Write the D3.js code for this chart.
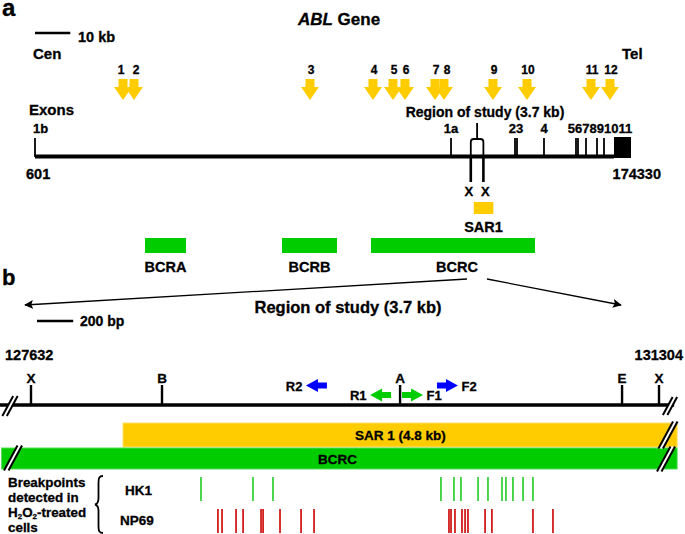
<!DOCTYPE html>
<html><head><meta charset="utf-8">
<script src="https://cdn.jsdelivr.net/npm/d3@7"></script>
<style>
body{margin:0;background:#fff}
svg{display:block;font-family:"Liberation Sans",Arial,Helvetica,sans-serif;font-weight:bold}
svg text{stroke:#000;stroke-width:0.3px}
</style>
</head><body>
<svg id="chart" width="685" height="534"></svg>
<script>
// ---------------- DATA ----------------
// Panel a: ABL gene (bp)
const geneRange = [601, 174330];
const sarNames = ["1","2","3","4","5","6","7","8","9","10","11","12"];
const sarPos = [26253, 29459, 80761, 99125, 104954, 108452, 117197, 119820, 134103, 144014, 162669, 168208];
const exonTickNames = ["1b","1a","2","3","4","5","6","7","8","9"];
const exonTickPos = [601, 121865, 140519, 141102, 148969, 158297, 158880, 161212, 164419, 166459];
const exonBlock = [169374, 174330];            // exons 10-11
const exonLabels = ["1b","1a","23","4","567891011"];
const exonLabelPos = [601, 121865, 140810, 148969, 165300];
const studyRegion = [127632, 131304];          // XbaI sites
const sar1A = [128500, 134200];
const bcrNames = ["BCRA","BCRB","BCRC"];
const bcrStart = [32666, 72599, 98542];
const bcrEnd = [44616, 88631, 146346];

// Panel b: region of study (bp)
const viewB = [127460, 131410];
const siteNames = ["X","B","A","E","X"];
const sitePos = [127632, 128398, 129790, 131088, 131304];
const primerNames = ["R2","R1","F1","F2"];
const primerPos = [129301, 129676, 129863, 130067];
const primerDir = [-1, -1, 1, 1];
const primerSet = ["outer","inner","inner","outer"];
const sar1B = [128170, 132970];
const bcrcB = [98542, 146346];
const hk1 = [128626,128930,129047,130029,130105,130146,130246,130304,130386,130409,130450,130509,130567];
const np69 = [128725,128749,128831,128872,128977,128989,129088,129211,129287,130076,130088,130111,130152,130170,130187,130287,130327,130567,130684];

// ---------------- STYLE ----------------
const YEL = "#FFCC00", GRN = "#00CC00", BLUE = "#0000FF", RED = "#CC0000", TICKG = "#22CC22";
const svg = d3.select("#chart");

// ---------------- PANEL A ----------------
const xa = d3.scaleLinear().domain(geneRange).range([35, 631]);
const A = svg.append("g");

A.append("text").attr("x", 2).attr("y", 16).attr("font-size", 24).text("a");
const title = A.append("text").attr("x", 339).attr("y", 25).attr("text-anchor", "middle").attr("font-size", 17);
title.append("tspan").attr("font-style", "italic").text("ABL");
title.append("tspan").text(" Gene");

// 10 kb scale bar
A.append("line").attr("x1", xa(geneRange[0])).attr("x2", xa(geneRange[0] + 10000) + 1)
  .attr("y1", 33).attr("y2", 33).attr("stroke", "#000").attr("stroke-width", 2.5);
A.append("text").attr("x", 78).attr("y", 42).attr("font-size", 14.5).text("10 kb");
A.append("text").attr("x", 33).attr("y", 59).attr("font-size", 15).text("Cen");
A.append("text").attr("x", 622).attr("y", 59).attr("font-size", 15).text("Tel");

// SAR arrows
const arrowPath = "M-4.5,0 L4.5,0 L4.5,8 L9,8 L0,21 L-9,8 L-4.5,8 Z";
const sg = A.append("g").selectAll("g").data(sarPos).join("g")
  .attr("transform", d => `translate(${xa(d)},79)`);
sg.append("path").attr("d", arrowPath).attr("fill", YEL);
A.append("g").selectAll("text").data(sarNames).join("text")
  .attr("x", (d, i) => xa(sarPos[i]) + (i === 0 ? -2 : i === 1 ? 2 : i === 7 ? 3 : 1))
  .attr("y", 74).attr("text-anchor", "middle").attr("font-size", 12).text(d => d);

A.append("text").attr("x", 29).attr("y", 115).attr("font-size", 15).text("Exons");
A.append("text").attr("x", 485).attr("y", 117).attr("text-anchor", "middle").attr("font-size", 14).text("Region of study (3.7 kb)");

// gene line
A.append("line").attr("x1", xa(geneRange[0])).attr("x2", xa(exonBlock[0]))
  .attr("y1", 156.5).attr("y2", 156.5).attr("stroke", "#000").attr("stroke-width", 4);
A.append("g").selectAll("line").data(exonTickPos).join("line")
  .attr("x1", d => xa(d)).attr("x2", d => xa(d)).attr("y1", 138).attr("y2", 157)
  .attr("stroke", "#000").attr("stroke-width", 1.8);
A.append("rect").attr("x", xa(exonBlock[0])).attr("width", xa(exonBlock[1]) - xa(exonBlock[0]))
  .attr("y", 137).attr("height", 21).attr("fill", "#000");
A.append("g").selectAll("text").data(exonLabels).join("text")
  .attr("x", (d, i) => i === 0 ? xa(exonLabelPos[i]) - 2 : xa(exonLabelPos[i]))
  .attr("text-anchor", (d, i) => i === 0 ? "start" : "middle")
  .attr("y", 133).attr("font-size", 13).text(d => d);

// study bracket
const s0 = xa(studyRegion[0]), s1 = xa(studyRegion[1]), sm = (s0 + s1) / 2;
A.append("path").attr("fill", "none").attr("stroke", "#000").attr("stroke-width", 1.8)
  .attr("d", `M${s0},157 L${s0},142 Q${s0},139 ${s0 + 3},139 L${s1 - 3},139 Q${s1},139 ${s1},142 L${s1},157 M${sm},139 L${sm},123`);
A.append("g").selectAll("line").data(studyRegion).join("line")
  .attr("x1", d => xa(d)).attr("x2", d => xa(d)).attr("y1", 157).attr("y2", 182)
  .attr("stroke", "#000").attr("stroke-width", 2.6);
A.append("g").selectAll("text").data(studyRegion).join("text")
  .attr("x", (d, i) => xa(d) + (i === 0 ? -2 : 2)).attr("y", 196).attr("text-anchor", "middle")
  .attr("font-size", 13).text("X");

A.append("text").attr("x", 26).attr("y", 179).attr("font-size", 14.5).text(String(geneRange[0]));
A.append("text").attr("x", 661).attr("y", 179).attr("text-anchor", "end").attr("font-size", 14.5).text(String(geneRange[1]));

// SAR1 box
A.append("rect").attr("x", xa(sar1A[0])).attr("width", xa(sar1A[1]) - xa(sar1A[0]))
  .attr("y", 202).attr("height", 12).attr("fill", YEL);
A.append("text").attr("x", (xa(sar1A[0]) + xa(sar1A[1])) / 2).attr("y", 232).attr("text-anchor", "middle")
  .attr("font-size", 14.5).text("SAR1");

// BCR boxes
A.append("g").selectAll("rect").data(bcrStart).join("rect")
  .attr("x", d => xa(d)).attr("width", (d, i) => xa(bcrEnd[i]) - xa(d))
  .attr("y", 238).attr("height", 15).attr("fill", GRN);
A.append("g").selectAll("text").data(bcrNames).join("text")
  .attr("x", (d, i) => (xa(bcrStart[i]) + xa(bcrEnd[i])) / 2 + (i === 2 ? 4 : 0)).attr("y", 272)
  .attr("text-anchor", "middle").attr("font-size", 14.5).text(d => d);

// ---------------- PANEL B ----------------
const xb = d3.scaleLinear().domain(studyRegion).range([31, 659]);
const B = svg.append("g");
B.append("text").attr("x", 2).attr("y", 285).attr("font-size", 22).text("b");

const defs = svg.append("defs");
defs.append("marker").attr("id", "ah").attr("viewBox", "0 0 10 10").attr("refX", 9).attr("refY", 5)
  .attr("markerWidth", 9).attr("markerHeight", 9).attr("markerUnits", "userSpaceOnUse").attr("orient", "auto")
  .append("path").attr("d", "M0,0 L10,5 L0,10 L2,5 Z").attr("fill", "#000");
B.append("line").attr("x1", 467).attr("y1", 279).attr("x2", 25).attr("y2", 305)
  .attr("stroke", "#000").attr("stroke-width", 1.3).attr("marker-end", "url(#ah)");
B.append("line").attr("x1", 487).attr("y1", 279).attr("x2", 621).attr("y2", 305)
  .attr("stroke", "#000").attr("stroke-width", 1.3).attr("marker-end", "url(#ah)");

B.append("text").attr("x", 348).attr("y", 313).attr("text-anchor", "middle").attr("font-size", 16.5).text("Region of study (3.7 kb)");
B.append("line").attr("x1", 37).attr("x2", 37 + (xb(studyRegion[0] + 200) - xb(studyRegion[0])) + 2)
  .attr("y1", 321).attr("y2", 321).attr("stroke", "#000").attr("stroke-width", 2.5);
B.append("text").attr("x", 80).attr("y", 326).attr("font-size", 14).text("200 bp");

B.append("text").attr("x", 5).attr("y", 360).attr("font-size", 14.5).text(String(studyRegion[0]));
B.append("text").attr("x", 683).attr("y", 360).attr("text-anchor", "end").attr("font-size", 14.5).text(String(studyRegion[1]));

// main line
B.append("line").attr("x1", xb(viewB[0]) - 2).attr("x2", xb(viewB[1]) - 3).attr("y1", 405).attr("y2", 405)
  .attr("stroke", "#000").attr("stroke-width", 3.5);
B.append("g").selectAll("line").data(sitePos).join("line")
  .attr("x1", d => xb(d)).attr("x2", d => xb(d)).attr("y1", 385).attr("y2", 405)
  .attr("stroke", "#000").attr("stroke-width", 2.4);
B.append("g").selectAll("text").data(siteNames).join("text")
  .attr("x", (d, i) => xb(sitePos[i])).attr("y", 383).attr("text-anchor", "middle")
  .attr("font-size", 13.5).text(d => d);

// primers
const primerY = {outer: 385.5, inner: 395};
const primerCol = {outer: BLUE, inner: GRN};
const pArrow = "M10.5,-3 L1.5,-3 L1.5,-6.5 L-10.5,0 L1.5,6.5 L1.5,3 L10.5,3 Z"; // points left
B.append("g").selectAll("path").data(primerPos).join("path")
  .attr("d", pArrow)
  .attr("transform", (d, i) => `translate(${xb(d)},${primerY[primerSet[i]]}) scale(${-primerDir[i]},1)`)
  .attr("fill", (d, i) => primerCol[primerSet[i]]);
B.append("g").selectAll("text").data(primerNames).join("text")
  .attr("x", (d, i) => xb(primerPos[i]) + primerDir[i] * 14)
  .attr("y", (d, i) => primerY[primerSet[i]] + (primerSet[i] === "outer" ? 5.5 : 4.5))
  .attr("text-anchor", (d, i) => primerDir[i] < 0 ? "end" : "start")
  .attr("font-size", 13).text(d => d);

// bars
const clip = r => [Math.max(r[0], viewB[0]), Math.min(r[1], viewB[1])];
const sb = clip(sar1B), cb = clip(bcrcB);
B.append("rect").attr("x", xb(sb[0])).attr("width", xb(sb[1]) - xb(sb[0])).attr("y", 423).attr("height", 24)
  .attr("fill", YEL).attr("stroke", "#FFE066").attr("stroke-width", 1);
B.append("text").attr("x", 355).attr("y", 440).attr("font-size", 13.5).text("SAR 1 (4.8 kb)");
B.append("rect").attr("x", xb(cb[0])).attr("width", xb(cb[1]) - xb(cb[0])).attr("y", 448).attr("height", 21)
  .attr("fill", GRN).attr("stroke", "#55DD55").attr("stroke-width", 1);
B.append("text").attr("x", 318).attr("y", 464).attr("font-size", 13.5).text("BCRC");

// break marks
function brk(x, y, h) {
  const d = h * 0.27, g = 4.5;
  B.append("path").attr("d", `M${x - g / 2 - d},${y + h / 2} L${x - g / 2 + d},${y - h / 2} L${x + g / 2 + d},${y - h / 2} L${x + g / 2 - d},${y + h / 2} Z`)
    .attr("fill", "#fff");
  [-g / 2, g / 2].forEach(o => B.append("line")
    .attr("x1", x + o - d).attr("y1", y + h / 2).attr("x2", x + o + d).attr("y2", y - h / 2)
    .attr("stroke", "#000").attr("stroke-width", 2));
}
brk(10, 406, 20);
brk(670, 406, 18);
brk(668, 435, 27);
brk(666, 459, 25);
brk(13, 458, 25);

// breakpoint labels
const lab = B.append("g").attr("font-size", 13.4);
lab.append("text").attr("x", 8).attr("y", 487).text("Breakpoints");
lab.append("text").attr("x", 8).attr("y", 502).text("detected in");
const h2 = lab.append("text").attr("x", 8).attr("y", 517);
h2.append("tspan").text("H");
h2.append("tspan").attr("font-size", 8).attr("dy", 2).text("2");
h2.append("tspan").attr("dy", -2).text("O");
h2.append("tspan").attr("font-size", 8).attr("dy", 2).text("2");
h2.append("tspan").attr("dy", -2).text("-treated");
lab.append("text").attr("x", 8).attr("y", 532).text("cells");
B.append("path").attr("fill", "none").attr("stroke", "#000").attr("stroke-width", 1.8)
  .attr("d", "M103,476 C99,476 98.5,478 98.5,483 L98.5,498 C98.5,502 97.5,504 95,504.5 C97.5,505 98.5,507 98.5,511 L98.5,526 C98.5,531 99,533 103,533");
B.append("text").attr("x", 125).attr("y", 495).attr("font-size", 13.5).text("HK1");
B.append("text").attr("x", 120).attr("y", 525).attr("font-size", 13.5).text("NP69");

B.append("g").selectAll("line").data(hk1).join("line")
  .attr("x1", d => xb(d)).attr("x2", d => xb(d)).attr("y1", 477).attr("y2", 501)
  .attr("stroke", TICKG).attr("stroke-width", 1.6);
B.append("g").selectAll("line").data(np69).join("line")
  .attr("x1", d => xb(d)).attr("x2", d => xb(d)).attr("y1", 509).attr("y2", 533)
  .attr("stroke", RED).attr("stroke-width", 1.6);
</script>
</body></html>
